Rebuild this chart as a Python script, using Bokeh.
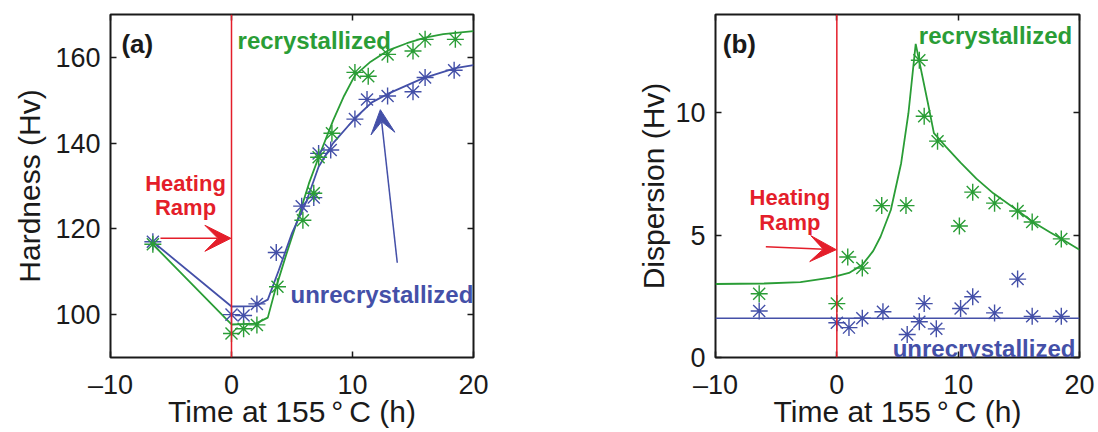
from bokeh.plotting import figure
from bokeh.models import Span, Label, Arrow, VeeHead, LinearAxis, FixedTicker, Range1d
from bokeh.layouts import row
from bokeh.embed import file_html
from bokeh.resources import INLINE

# ---------------- data: panel (a) hardness ----------------
time_rex_a = [-6.5, 0.0, 1.0, 2.1, 3.8, 5.9, 6.8, 7.2, 8.3, 10.2, 11.3, 12.9, 15.0, 16.0, 18.5]
hard_rex = [116.4, 95.6, 96.7, 97.6, 106.5, 122.0, 128.3, 136.7, 142.3, 156.5, 155.6, 160.7, 161.5, 164.2, 164.2]
time_unrex_a = [-6.5, 0.0, 1.0, 2.1, 3.7, 5.8, 6.8, 7.2, 8.2, 10.2, 11.2, 12.9, 15.0, 16.0, 18.4]
hard_unrex = [117.0, 100.0, 99.8, 102.5, 114.5, 125.3, 127.3, 137.6, 138.4, 145.6, 150.2, 151.0, 152.0, 155.3, 157.0]

fit_t_rex_a = [-6.5, 0.0, 2.0, 3.0, 3.6, 4.5, 5.45, 6.4, 7.2, 8.4, 9.3, 10.2, 11.5, 13.0, 14.5, 16.0, 17.5, 20.0]
fit_h_rex = [116.4, 97.7, 97.9, 99.3, 105.6, 113.8, 122.0, 130.6, 136.7, 145.3, 151.0, 155.8, 159.0, 161.7, 163.3, 164.6, 165.4, 166.1]
fit_t_unrex_a = [-6.5, 0.0, 2.0, 3.0, 3.9, 5.0, 6.2, 7.2, 8.4, 10.2, 11.6, 13.0, 15.8, 18.5, 20.0]
fit_h_unrex = [117.0, 101.9, 102.0, 103.5, 110.3, 119.0, 126.5, 134.5, 140.0, 145.8, 149.5, 151.6, 155.1, 157.5, 158.2]

# ---------------- data: panel (b) dispersion ----------------
time_rex_b = [-6.4, 0.0, 0.9, 2.1, 3.7, 5.7, 6.8, 7.2, 8.3, 10.1, 11.2, 13.0, 14.9, 16.1, 18.5]
disp_rex = [2.6, 2.2, 4.1, 3.65, 6.2, 6.2, 12.13, 9.85, 8.83, 5.37, 6.75, 6.3, 5.98, 5.53, 4.84]
time_unrex_b = [-6.4, 0.0, 1.0, 2.1, 3.8, 5.8, 6.8, 7.2, 8.2, 10.2, 11.2, 13.0, 14.9, 16.1, 18.5]
disp_unrex = [1.9, 1.42, 1.22, 1.6, 1.87, 0.94, 1.46, 2.2, 1.17, 2.0, 2.48, 1.82, 3.2, 1.68, 1.68]

fit_t_rex_b = [-10.0, -6.0, -3.0, -0.5, 1.0, 2.1, 3.0, 3.6, 4.45, 5.3, 5.9, 6.5, 7.5, 8.0, 9.0, 10.2, 11.5, 12.9, 14.9, 16.1, 17.6, 18.5, 20.0]
fit_d_rex = [3.0, 3.02, 3.08, 3.26, 3.45, 3.78, 4.35, 4.93, 6.02, 7.93, 9.97, 12.8, 10.4, 9.16, 8.6, 7.95, 7.3, 6.7, 6.0, 5.55, 5.1, 4.85, 4.4]
fit_t_unrex_b = [-10.0, 20.0]
fit_d_unrex = [1.6, 1.6]

x_ticks = [-10, 0, 10, 20]
y_ticks_a = [100, 120, 140, 160]
y_ticks_b = [0, 5, 10]

GREEN = "#2a9d36"
BLUE = "#4450a8"
RED = "#e41e2a"
FONT = "Liberation Sans"
TICK_FS = "27px"
LABEL_FS = "30px"
ANN_FS = "24px"
RED_FS = "22px"


def make_fig(width, yr, yticks, ylabel, borders, ylab_standoff):
    bl, br, bt, bb = borders
    p = figure(width=width, height=432, x_range=Range1d(-10, 20), y_range=Range1d(*yr),
               output_backend="svg", toolbar_location=None,
               min_border_left=bl, min_border_right=br, min_border_top=bt, min_border_bottom=bb)
    p.grid.visible = False
    p.background_fill_color = "white"
    p.border_fill_color = "white"
    p.outline_line_color = "#1a1a1a"
    p.outline_line_width = 2
    p.outline_line_alpha = 1.0
    for ax, ticks in ((p.xaxis[0], x_ticks), (p.yaxis[0], yticks)):
        ax.ticker = FixedTicker(ticks=ticks)
        ax.major_tick_in = 6
        ax.major_tick_out = 0
        ax.major_tick_line_color = "#1a1a1a"
        ax.major_tick_line_width = 1.5
        ax.minor_tick_line_color = None
        ax.axis_line_color = None
        ax.major_label_text_font = FONT
        ax.major_label_text_font_size = TICK_FS
        ax.major_label_text_color = "#1a1a1a"
        ax.axis_label_text_font = FONT
        ax.axis_label_text_font_size = LABEL_FS
        ax.axis_label_text_font_style = "normal"
        ax.axis_label_text_color = "#1a1a1a"
    p.xaxis[0].major_label_standoff = 12
    p.xaxis[0].axis_label_standoff = -8
    p.yaxis[0].major_label_standoff = 10
    p.yaxis[0].axis_label_standoff = ylab_standoff
    p.xaxis[0].major_label_overrides = {-10: "\u201310"}
    p.xaxis[0].axis_label = "Time at 155\u2009\u00b0\u2009C (h)"
    p.yaxis[0].axis_label = ylabel
    for loc, ticks in (("right", yticks), ("above", x_ticks)):
        ax = LinearAxis(ticker=FixedTicker(ticks=ticks), major_tick_in=6, major_tick_out=0,
                        major_tick_line_color="#1a1a1a", major_tick_line_width=1.5,
                        minor_tick_line_color=None, axis_line_color=None,
                        major_label_text_font_size="0px", major_label_standoff=0,
                        major_label_text_color=None)
        p.add_layout(ax, loc)
    p.add_layout(Span(location=0, dimension="height", line_color=RED, line_width=1.5))
    return p


def ann(p, x, y, text, color, align="left", size=ANN_FS):
    p.add_layout(Label(x=x, y=y, text=text, text_font=FONT, text_font_style="bold",
                       text_font_size=size, text_color=color, text_align=align,
                       text_baseline="alphabetic"))


# ---------------- panel (a) ----------------
pa = make_fig(549, (90, 170), y_ticks_a, "Hardness (Hv)", (110, 76, 14, 75), 6)
pa.line(fit_t_rex_a, fit_h_rex, line_color=GREEN, line_width=1.8)
pa.line(fit_t_unrex_a, fit_h_unrex, line_color=BLUE, line_width=1.8)
pa.scatter(time_unrex_a, hard_unrex, marker="asterisk", size=17, line_color=BLUE, line_width=1.4)
pa.scatter(time_rex_a, hard_rex, marker="asterisk", size=17, line_color=GREEN, line_width=1.4)
pa.add_layout(Arrow(end=VeeHead(size=26, fill_color=RED, line_color=RED),
                    x_start=-5.87, y_start=117.8, x_end=-0.05, y_end=117.8,
                    line_color=RED, line_width=1.5))
pa.add_layout(Arrow(end=VeeHead(size=24, fill_color=BLUE, line_color=BLUE),
                    x_start=13.7, y_start=112.1, x_end=12.3, y_end=147.8,
                    line_color=BLUE, line_width=1.5))
ann(pa, -9.1, 163.1, "(a)", "#1a1a1a", size="26px")
ann(pa, 0.5, 164.0, "recrystallized", GREEN)
ann(pa, -3.8, 130.6, "Heating", RED, align="center", size=RED_FS)
ann(pa, -3.8, 125.0, "Ramp", RED, align="center", size=RED_FS)
ann(pa, 4.88, 104.7, "unrecrystallized", BLUE)

# ---------------- panel (b) ----------------
pb = make_fig(549, (0, 14), y_ticks_b, "Dispersion (Hv)", (166, 19, 14, 74), 2)
pb.line(fit_t_rex_b, fit_d_rex, line_color=GREEN, line_width=1.8)
pb.line(fit_t_unrex_b, fit_d_unrex, line_color=BLUE, line_width=1.5)
pb.scatter(time_unrex_b, disp_unrex, marker="asterisk", size=17, line_color=BLUE, line_width=1.4)
pb.scatter(time_rex_b, disp_rex, marker="asterisk", size=17, line_color=GREEN, line_width=1.4)
pb.add_layout(Arrow(end=VeeHead(size=26, fill_color=RED, line_color=RED),
                    x_start=-5.85, y_start=4.52, x_end=-0.05, y_end=4.4,
                    line_color=RED, line_width=1.5))
ann(pb, -9.4, 12.78, "(b)", "#1a1a1a", size="26px")
ann(pb, 6.76, 13.15, "recrystallized", GREEN)
ann(pb, -3.87, 6.55, "Heating", RED, align="center", size=RED_FS)
ann(pb, -3.87, 5.49, "Ramp", RED, align="center", size=RED_FS)
ann(pb, 4.6, 0.35, "unrecrystallized", BLUE)

layout = row(pa, pb)
open("out.html", "w").write(file_html(layout, INLINE))
